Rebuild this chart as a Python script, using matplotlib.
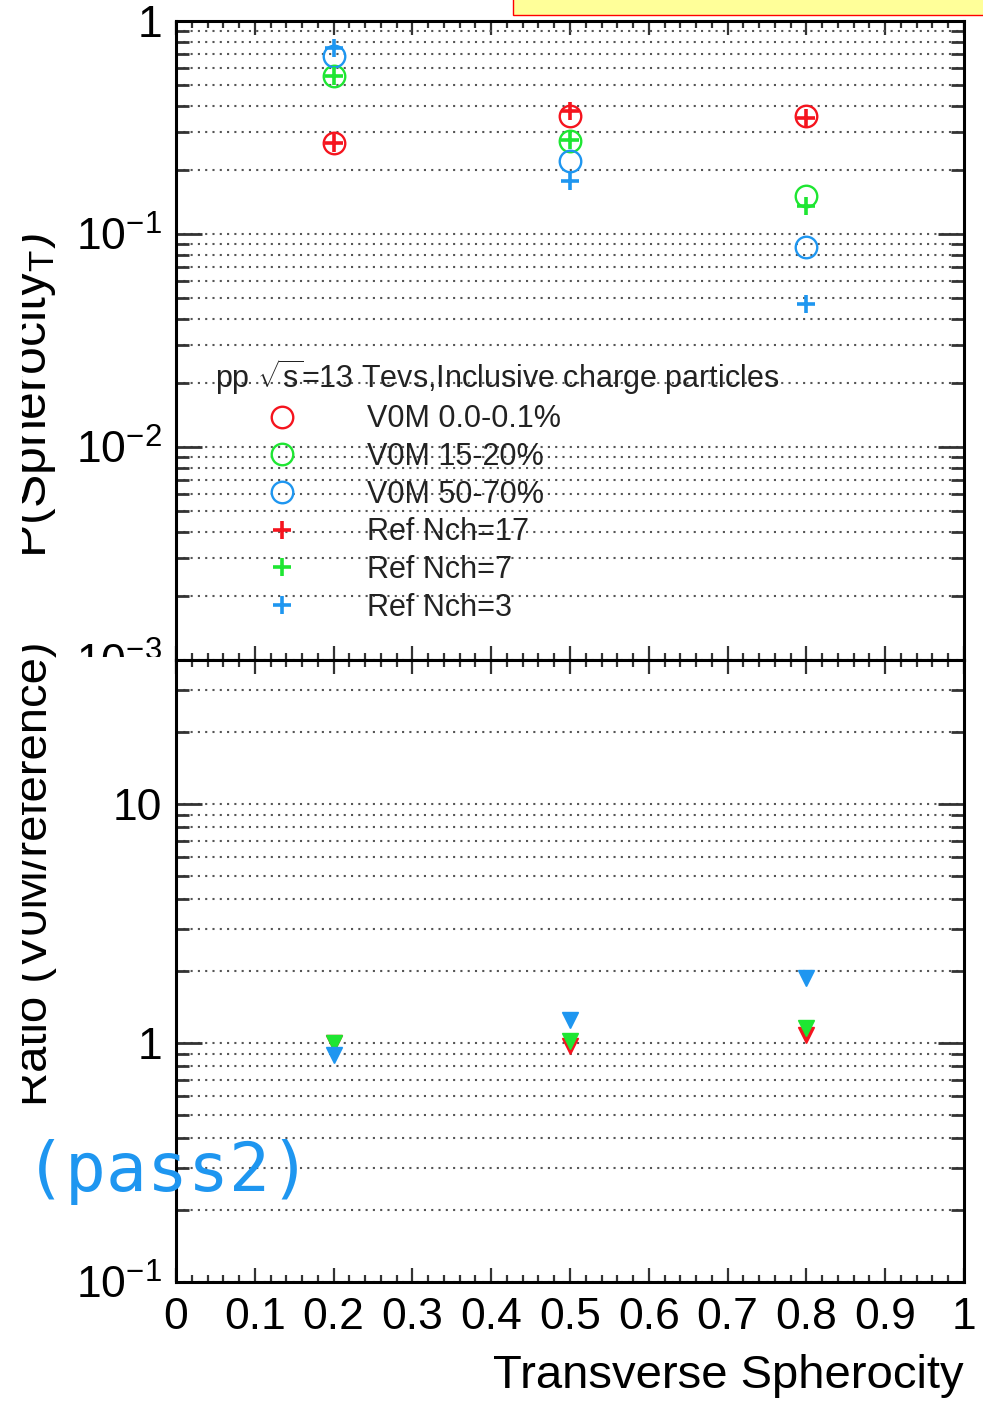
import numpy as np
import matplotlib
matplotlib.use('Agg')
import matplotlib.pyplot as plt
from matplotlib.ticker import LogLocator, NullFormatter, FuncFormatter, MultipleLocator, FixedFormatter, FixedLocator
from matplotlib.patches import Rectangle
from matplotlib.transforms import Bbox, TransformedBbox

plt.rcParams['font.family'] = ['Liberation Sans', 'DejaVu Sans']
plt.rcParams['mathtext.fontset'] = 'custom'
plt.rcParams['mathtext.rm'] = 'Liberation Sans'
plt.rcParams['mathtext.it'] = 'Liberation Sans:italic'
plt.rcParams['mathtext.bf'] = 'Liberation Sans:bold'

# spherocity bins
sT = [0.2, 0.5, 0.8]

# P(Spherocity_T), V0M classes
v0m_0_01 = [0.268, 0.358, 0.358]
v0m_15_20 = [0.552, 0.273, 0.151]
v0m_50_70 = [0.685, 0.220, 0.087]

# reference Nch
ref_17 = [0.268, 0.378, 0.350]
ref_7 = [0.550, 0.275, 0.136]
ref_3 = [0.746, 0.177, 0.047]

# ratio V0M / reference
ratio_red = [1.00, 0.97, 1.08]
ratio_green = [1.00, 1.02, 1.15]
ratio_blue = [0.89, 1.25, 1.87]

xtick_vals = [0, 0.1, 0.2, 0.3, 0.4, 0.5, 0.6, 0.7, 0.8, 0.9, 1.0]
xtick_labels = ['0', '0.1', '0.2', '0.3', '0.4', '0.5', '0.6', '0.7', '0.8', '0.9', '1']

RED = '#f5141e'
GREEN = '#1ee632'
BLUE = '#1e96f0'

W, H = 983, 1406
fig = plt.figure(figsize=(W/100, H/100), dpi=100)

L, R = 176, 964
ax1 = fig.add_axes([L/W, 1-660/H, (R-L)/W, (660-21)/H])
ax2 = fig.add_axes([L/W, 1-1282/H, (R-L)/W, (1282-660)/H])


def logfmt(v, pos):
    e = int(round(np.log10(v)))
    if e == 0:
        return '1'
    if e == 1:
        return '10'
    return r'$10^{%d}$' % e


for ax in (ax1, ax2):
    ax.set_yscale('log')
    ax.set_xlim(0, 1)
    ax.yaxis.set_major_locator(LogLocator(base=10))
    ax.yaxis.set_minor_locator(LogLocator(base=10, subs=np.arange(2, 10)))
    ax.yaxis.set_major_formatter(FuncFormatter(logfmt))
    ax.yaxis.set_minor_formatter(NullFormatter())
    ax.xaxis.set_major_locator(FixedLocator(xtick_vals))
    ax.xaxis.set_major_formatter(FixedFormatter(xtick_labels))
    ax.xaxis.set_minor_locator(MultipleLocator(0.02))
    ax.yaxis.grid(True, which='both', linestyle=(0, (1, 2.5)), color='#555555', linewidth=1.5)
    ax.set_axisbelow(True)
    ax.tick_params(axis='x', which='major', direction='in', length=10, width=1.6,
                   top=True, bottom=True, labelsize=32, pad=11, color='#333333')
    ax.tick_params(axis='x', which='minor', direction='in', length=5, width=1.6,
                   top=True, bottom=True, color='#333333')
    ax.tick_params(axis='y', which='major', direction='in', length=19, width=2,
                   left=True, right=True, labelsize=32, pad=10, color='#333333')
    ax.tick_params(axis='y', which='minor', direction='in', length=9.5, width=2,
                   left=True, right=True, color='#333333')
    for sp in ax.spines.values():
        sp.set_linewidth(2.2)

ax1.set_ylim(1e-3, 1)
ax1.tick_params(axis='x', labelbottom=False)
ax2.set_ylim(0.1, 40)

# top panel
h1, = ax1.plot(sT, v0m_0_01, 'o', mfc='none', mec=RED, ms=15.5, mew=1.7, label='V0M 0.0-0.1%')
h2, = ax1.plot(sT, v0m_15_20, 'o', mfc='none', mec=GREEN, ms=15.5, mew=1.7, label='V0M 15-20%')
h3, = ax1.plot(sT, v0m_50_70, 'o', mfc='none', mec=BLUE, ms=15.5, mew=1.7, label='V0M 50-70%')
h4, = ax1.plot(sT, ref_17, '+', color=RED, ms=13, mew=2.6, label='Ref Nch=17')
h5, = ax1.plot(sT, ref_7, '+', color=GREEN, ms=13, mew=2.6, label='Ref Nch=7')
h6, = ax1.plot(sT, ref_3, '+', color=BLUE, ms=13, mew=2.6, label='Ref Nch=3')

ax1.text(0.0495, 0.443, r'pp $\sqrt{\mathrm{s}}$=13 Tevs,Inclusive charge particles', fontsize=22,
         va='center', ha='left', transform=ax1.transAxes, color='#222222')
ax1.legend(handles=[h1, h2, h3, h4, h5, h6], loc='upper left', bbox_to_anchor=(0.1074, 0.4),
           frameon=False, fontsize=22, handlelength=1.4, handletextpad=2.08, labelspacing=0.25,
           borderpad=0, borderaxespad=0, numpoints=1, labelcolor='#222222')

# bottom panel
ax2.plot(sT, ratio_red, 'v', color=RED, ms=11)
ax2.plot(sT, ratio_green, 'v', color=GREEN, ms=11)
ax2.plot(sT, ratio_blue, 'v', color=BLUE, ms=11)

ax2.set_xlabel('Transverse Spherocity', fontsize=34, ha='right')
ax2.xaxis.set_label_coords(1.0, -0.115)

# lower pad hides the bottom of the upper pad's last label
ax2.add_patch(Rectangle((0, 0), L/W - 0.002, 1-657/H, transform=fig.transFigure,
                        facecolor='white', edgecolor='none', zorder=0.1, clip_on=False))

clip = TransformedBbox(Bbox.from_extents(22/W, 0, 1, 1), fig.transFigure)
t1 = fig.text(46/W, 1-396/H, r'P(Spherocity$_{\mathrm{T}}$)', rotation=90, rotation_mode='anchor',
              ha='center', va='baseline', fontsize=36)
t2 = fig.text(47/W, 1-874/H, 'Ratio (V0M/reference)', rotation=90, rotation_mode='anchor',
              ha='center', va='baseline', fontsize=34)
for t in (t1, t2):
    t.set_clip_box(clip)
    t.set_clip_on(True)

# title box (cut at the top edge)
fig.add_artist(Rectangle((513/W, 1-15/H), (W-513)/W + 0.01, 15/H + 0.01, transform=fig.transFigure,
                         facecolor='#ffff99', edgecolor='#ff0000', linewidth=1))

fig.text(25/W, 1-1172/H, '(pass2)', fontsize=49, family='DejaVu Sans Mono', color=BLUE,
         ha='left', va='center')

fig.savefig('out.png', dpi=100)
